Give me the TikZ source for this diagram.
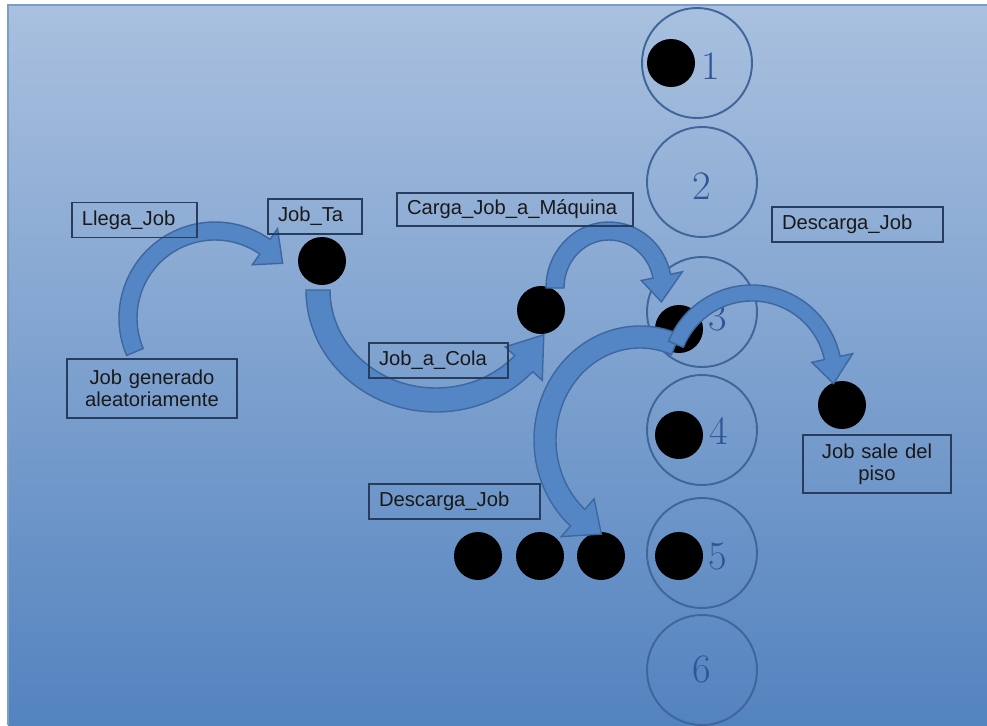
\documentclass[tikz,border=0pt]{standalone}
\usepackage{fontspec}
\newfontfamily\boxfont{Liberation Sans}

\definecolor{bgtop}{HTML}{A9C0DF}
\definecolor{bgbot}{HTML}{5383BF}
\definecolor{frame}{HTML}{7C9CCB}
\definecolor{ringblue}{HTML}{3F6699}
\definecolor{numblue}{HTML}{2F5597}
\definecolor{arrowfill}{HTML}{5485C4}
\definecolor{arrowline}{HTML}{3D679F}
\definecolor{boxline}{HTML}{283C5E}

% curved block arrow: centre x, centre y, x radius, y radius, tail angle, head base angle, tip angle, half width, half head
\newcommand{\bentarrow}[9]{%
  \begin{scope}[shift={(#1,#2)}]
    \pgfmathsetmacro\axo{#3+#8}\pgfmathsetmacro\ayo{#4+#8}
    \pgfmathsetmacro\axi{#3-#8}\pgfmathsetmacro\ayi{#4-#8}
    \pgfmathsetmacro\hxo{#3+#9}\pgfmathsetmacro\hyo{#4+#9}
    \pgfmathsetmacro\hxi{#3-#9}\pgfmathsetmacro\hyi{#4-#9}
    \filldraw[block] ({\axo*cos(#5)},{\ayo*sin(#5)}) arc[start angle=#5, end angle=#6, x radius=\axo, y radius=\ayo]
      -- ({\hxo*cos(#6)},{\hyo*sin(#6)}) -- ({#3*cos(#7)},{#4*sin(#7)})
      -- ({\hxi*cos(#6)},{\hyi*sin(#6)}) -- ({\axi*cos(#6)},{\ayi*sin(#6)})
      arc[start angle=#6, end angle=#5, x radius=\axi, y radius=\ayi] -- cycle;
  \end{scope}}

\begin{document}
\begin{tikzpicture}[x=0.2mm, y=0.2mm,
    machine/.style={circle, draw=ringblue, line width=1.1pt, minimum size=2.2cm, inner sep=0pt},
    num/.style={text=numblue, font=\fontsize{23}{26}\selectfont, inner sep=0pt},
    job/.style={circle, fill=black, minimum size=0.96cm, inner sep=0pt},
    block/.style={fill=arrowfill, draw=arrowline, line width=0.8pt},
    tag/.style={draw=boxline, line width=0.8pt, font=\boxfont\fontsize{11.5}{12.5}\selectfont,
      text=black!90, inner xsep=0.2cm, inner ysep=0pt, minimum height=0.7cm, align=left}]

    \useasboundingbox (0,0) rectangle (987,-725);
    \shade[top color=bgtop, bottom color=bgbot] (8,-5) rectangle (987,-725);
    \draw[frame, line width=1.2pt] (8,-725) -- (8,-5) -- (987,-5);

    % machines
    \foreach \n/\mx/\yy/\nx/\ny in {1/697/63/711/66, 2/702/182/702/186, 3/702/312/718/317,
        4/702/430/719/431, 5/702/553/718/556, 6/702/670/702/669}{
      \node[machine] (m\n) at (\mx,-\yy) {};
      \node[num] (n\n) at (\nx,-\ny) {\n};
    }

    % jobs
    \node[job] (d1) at (671,-63) {};
    \node[job] (ta) at (322,-261) {};
    \node[job] (cola) at (541,-310) {};
    \node[job] (d3) at (679,-329) {};
    \node[job] (d4) at (679,-435) {};
    \node[job] (d5) at (679,-556) {};
    \foreach \i/\xx in {1/478, 2/540, 3/601}
      \node[job] (q\i) at (\xx,-556) {};
    \node[job] (out) at (842,-405) {};

    \bentarrow{215}{-318}{87}{87}{203}{55}{39}{9}{22}
    \bentarrow{436}{-290}{118}{110}{180}{318}{336}{12}{25}
    \bentarrow{609}{-288}{54}{57}{180}{12}{-14}{9}{21}
    \bentarrow{640}{-440}{95}{103}{68}{229}{246}{11}{25}
    \bentarrow{752}{-375}{82}{82}{158}{12}{-6}{8}{21}

    % labels
    \node[tag, text width=2.1cm] (llega) at (134.5,-220) {Llega\_Job};
    \node[tag, text width=1.48cm] (jobta) at (315,-216.5) {Job\_Ta};
    \node[tag, text width=3cm, minimum height=1.18cm, align=center] (gen) at (152,-388.5) {Job generado\\aleatoriamente};
    \node[tag, text width=4.32cm, minimum height=0.66cm] (carga) at (515,-209.5) {Carga\_Job\_a\_Máquina};
    \node[tag, text width=2.38cm] (jcola) at (438.5,-360.5) {Job\_a\_Cola};
    \node[tag, text width=3.02cm] (desc1) at (857.5,-224.5) {Descarga\_Job};
    \node[tag, text width=3.02cm] (desc2) at (454.5,-501.5) {Descarga\_Job};
    \node[tag, text width=2.56cm, minimum height=1.16cm, align=center] (sale) at (877,-464) {Job sale del\\piso};
\end{tikzpicture}
\end{document}
